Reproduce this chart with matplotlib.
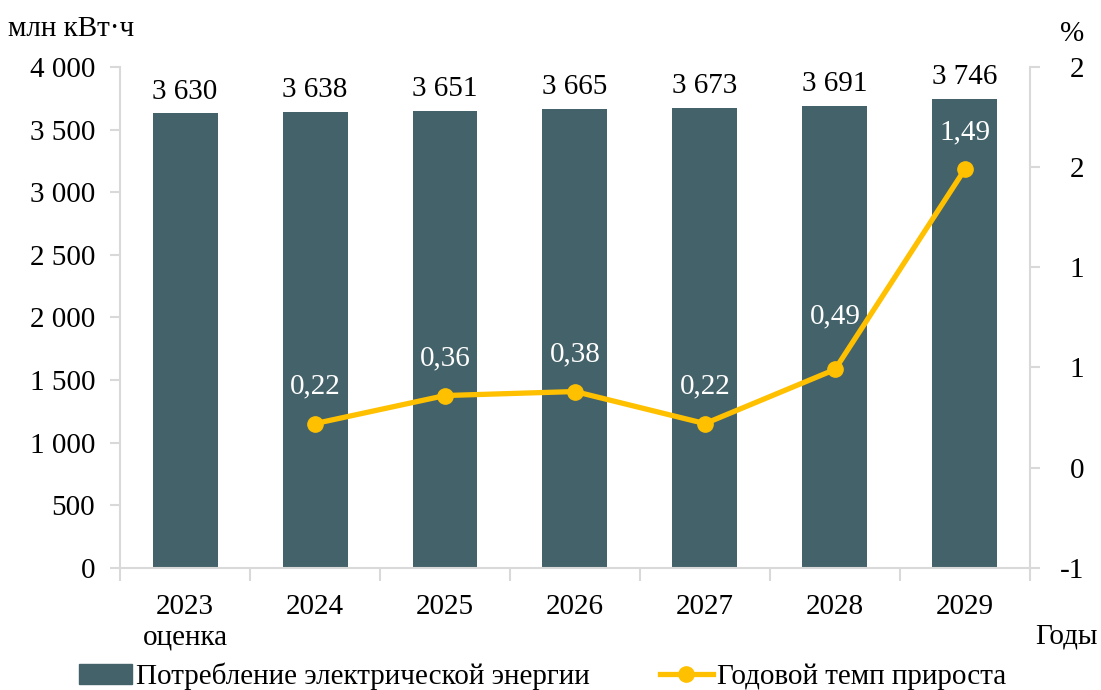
import numpy as np
import matplotlib.pyplot as plt
from matplotlib.lines import Line2D
from matplotlib.patches import Patch

plt.rcParams['font.family'] = ['Liberation Serif', 'DejaVu Serif']

years = ['2023\nоценка', '2024', '2025', '2026', '2027', '2028', '2029']
consumption = [3630, 3638, 3651, 3665, 3673, 3691, 3746]
growth = [None, 0.22, 0.36, 0.38, 0.22, 0.49, 1.49]
left_ticks = [0, 500, 1000, 1500, 2000, 2500, 3000, 3500, 4000]
right_ticks = [-0.5, 0.0, 0.5, 1.0, 1.5, 2.0]
right_labels = ['-1', '0', '1', '1', '2', '2']
# label offsets above the points (in % units), Excel-like placement
label_offsets = [None, 0.12, 0.12, 0.12, 0.12, 0.2, 0.12]

bar_color = '#44626A'
line_color = '#FFC000'
spine_color = '#D9D9D9'
fs = 21

fig = plt.figure(figsize=(11.01, 6.90), dpi=100)
ax = fig.add_axes([0.109, 0.177, 0.8265, 0.726])
x = np.arange(len(years))

ax.bar(x, consumption, width=0.5, color=bar_color, zorder=2)
for xi, v in zip(x, consumption):
    ax.text(xi, v + 70, f'{v:,}'.replace(',', ' '), ha='center', va='bottom', fontsize=fs)

ax.set_xlim(-0.5, len(years) - 0.5)
ax.set_ylim(0, 4000)
ax.set_yticks(left_ticks)
ax.set_yticklabels([f'{t:,}'.replace(',', ' ') for t in left_ticks])
ax.set_xticks(x)
ax.set_xticklabels(years)
ax.set_xticks(np.arange(-0.5, len(years)), minor=True)
ax.tick_params(axis='x', which='major', length=0, labelsize=fs, pad=19)
ax.tick_params(axis='x', which='minor', length=9, color=spine_color, width=1.5)
ax.tick_params(axis='y', length=7, color=spine_color, width=1.5, labelsize=fs, pad=11)
for s in ['top', 'right']:
    ax.spines[s].set_visible(False)
for s in ['left', 'bottom']:
    ax.spines[s].set_color(spine_color)
    ax.spines[s].set_linewidth(1.5)

ax2 = ax.twinx()
gx = [xi for xi, g in zip(x, growth) if g is not None]
gy = [g for g in growth if g is not None]
offs = [o for o, g in zip(label_offsets, growth) if g is not None]
ax2.plot(gx, gy, color=line_color, lw=3.8, marker='o', markersize=11, zorder=3)
for xi, g, off in zip(gx, gy, offs):
    ax2.text(xi, g + off, f'{g:.2f}'.replace('.', ','), ha='center', va='bottom',
             fontsize=fs, color='white')
ax2.set_ylim(-0.5, 2.0)
ax2.set_yticks(right_ticks)
ax2.set_yticklabels(right_labels, ha='right')
ax2.tick_params(axis='y', length=7, color=spine_color, width=1.5, labelsize=fs, pad=32)
for s in ['top', 'left', 'bottom']:
    ax2.spines[s].set_visible(False)
ax2.spines['right'].set_color(spine_color)
ax2.spines['right'].set_linewidth(1.5)

fig.text(0.007, 0.958, 'млн кВт·ч', fontsize=fs, va='center', ha='left')
fig.text(0.974, 0.951, '%', fontsize=fs, va='center', ha='center')
fig.text(0.997, 0.078, 'Годы', fontsize=fs, va='center', ha='right')

handles = [Patch(color=bar_color, label='Потребление электрической энергии'),
           Line2D([0], [0], color=line_color, lw=3.8, marker='o', markersize=11,
                  label='Годовой темп прироста')]
fig.legend(handles=handles, loc='center', bbox_to_anchor=(0.493, 0.02), ncol=2,
           frameon=False, fontsize=fs, handlelength=1.8, handletextpad=0.15,
           columnspacing=2.4, borderaxespad=0)

fig.savefig('out.png', dpi=100)
